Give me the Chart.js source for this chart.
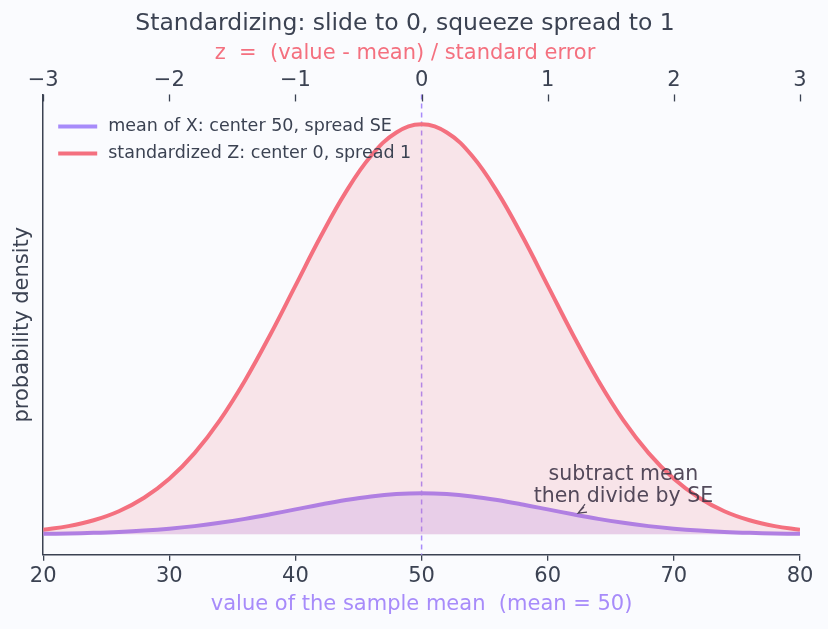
<!DOCTYPE html>
<html>
<head>
<meta charset="utf-8">
<script src="https://cdn.jsdelivr.net/npm/chart.js@4.4.1/dist/chart.umd.min.js"></script>
<style>
  html, body { margin: 0; padding: 0; background: #fafbfe; }
  #wrap { width: 828px; height: 629px; }
</style>
</head>
<body>
<div id="wrap"><canvas id="chart" width="828" height="629"></canvas></div>
<script>
'use strict'

// sample mean values on the bottom axis
const xValues = [20, 22, 24, 26, 28, 30, 32, 34, 36, 38, 40, 42, 44, 46, 48, 50,
  52, 54, 56, 58, 60, 62, 64, 66, 68, 70, 72, 74, 76, 78, 80]

// density of the sample mean (center 50, spread SE)
const meanDensity = [0.00044, 0.00079, 0.00136, 0.00224, 0.00355, 0.0054, 0.0079, 0.01109,
  0.01497, 0.01942, 0.0242, 0.02897, 0.03332, 0.03683, 0.0391, 0.03989,
  0.0391, 0.03683, 0.03332, 0.02897, 0.0242, 0.01942, 0.01497, 0.01109,
  0.0079, 0.0054, 0.00355, 0.00224, 0.00136, 0.00079, 0.00044]

// density of the standardized Z (center 0, spread 1)
const zDensity = [0.0044, 0.0079, 0.0136, 0.0224, 0.0355, 0.054, 0.079, 0.1109,
  0.1497, 0.1942, 0.242, 0.2897, 0.3332, 0.3683, 0.391, 0.3989,
  0.391, 0.3683, 0.3332, 0.2897, 0.242, 0.1942, 0.1497, 0.1109,
  0.079, 0.054, 0.0355, 0.0224, 0.0136, 0.0079, 0.0044]

const bottomTicks = [20, 30, 40, 50, 60, 70, 80]
const topTicks = [-3, -2, -1, 0, 1, 2, 3]

const noteLines = ['subtract mean', 'then divide by SE']
const notePos = { x: 66, y: 0.058 }
const arrowTip = { x: 62.4, y: 0.0205 }

const INK = '#3b4252'
const PINK = '#f4707f'
const PURPLE = '#a78bfa'
const FONT = "'DejaVu Sans', sans-serif"

const toPoints = ys => xValues.map((x, i) => ({ x, y: ys[i] }))

// paint the page colour behind everything
const backdrop = {
  id: 'backdrop',
  beforeDraw(chart) {
    const ctx = chart.ctx
    ctx.save()
    ctx.fillStyle = '#fafbfe'
    ctx.fillRect(0, 0, chart.width, chart.height)
    ctx.restore()
  }
}

// dashed line at the mean, top tick marks, legend and the note
const extras = {
  id: 'extras',
  beforeDatasetsDraw(chart) {
    const { ctx, chartArea, scales } = chart
    const x = scales.x.getPixelForValue(50)
    ctx.save()
    ctx.strokeStyle = PURPLE
    ctx.lineWidth = 1.5
    ctx.setLineDash([5, 4])
    ctx.beginPath()
    ctx.moveTo(x, chartArea.top)
    ctx.lineTo(x, chartArea.bottom)
    ctx.stroke()
    ctx.restore()
  },
  afterDraw(chart) {
    const { ctx, chartArea, scales } = chart
    ctx.save()

    // top axis tick marks point into the plot
    ctx.strokeStyle = INK
    ctx.lineWidth = 1.3
    topTicks.forEach(t => {
      const px = Math.round(scales.x2.getPixelForValue(t)) + 0.5
      ctx.beginPath()
      ctx.moveTo(px, chartArea.top)
      ctx.lineTo(px, chartArea.top + 7)
      ctx.stroke()
    })

    // legend
    ctx.font = '17.5px ' + FONT
    ctx.textBaseline = 'middle'
    ctx.textAlign = 'left'
    chart.data.datasets.forEach((ds, i) => {
      const y = chartArea.top + 32 + i * 27
      ctx.strokeStyle = ds.legendColor
      ctx.lineWidth = 4
      ctx.beginPath()
      ctx.moveTo(chartArea.left + 15, y)
      ctx.lineTo(chartArea.left + 54, y)
      ctx.stroke()
      ctx.fillStyle = INK
      ctx.fillText(ds.label, chartArea.left + 65, y)
    })

    // annotation
    const nx = scales.x.getPixelForValue(notePos.x)
    const ny = scales.y.getPixelForValue(notePos.y)
    ctx.font = '20.5px ' + FONT
    ctx.textAlign = 'center'
    ctx.fillStyle = 'rgba(59, 50, 70, 0.88)'
    noteLines.forEach((line, i) => ctx.fillText(line, nx, ny + i * 22))

    const ax = scales.x.getPixelForValue(arrowTip.x)
    const ay = scales.y.getPixelForValue(arrowTip.y)
    ctx.strokeStyle = 'rgba(59, 50, 70, 0.88)'
    ctx.lineWidth = 1.2
    ctx.beginPath()
    ctx.moveTo(ax + 7, ay - 9)
    ctx.lineTo(ax, ay)
    ctx.lineTo(ax + 9, ay - 1)
    ctx.moveTo(ax, ay)
    ctx.lineTo(ax + 6, ay - 6)
    ctx.stroke()

    ctx.restore()
  }
}

const config = {
  type: 'line',
  data: {
    datasets: [
      {
        label: 'mean of X: center 50, spread SE',
        data: toPoints(meanDensity),
        borderColor: '#b07fe2',
        legendColor: PURPLE,
        backgroundColor: 'rgba(176, 127, 226, 0.22)',
        borderWidth: 4,
        fill: 'origin',
        tension: 0.4,
        pointRadius: 0
      },
      {
        label: 'standardized Z: center 0, spread 1',
        data: toPoints(zDensity),
        borderColor: PINK,
        legendColor: PINK,
        backgroundColor: 'rgba(244, 112, 127, 0.16)',
        borderWidth: 4,
        fill: 'origin',
        tension: 0.4,
        pointRadius: 0
      }
    ]
  },
  options: {
    responsive: false,
    animation: false,
    layout: { padding: { left: 10, right: 28, top: 10, bottom: 12 } },
    plugins: {
      legend: { display: false },
      tooltip: { enabled: false },
      title: {
        display: true,
        text: 'Standardizing: slide to 0, squeeze spread to 1',
        color: INK,
        font: { family: FONT, size: 23.5, weight: 'normal' },
        padding: { top: 0, bottom: 3 }
      },
      subtitle: {
        display: true,
        text: 'z  =  (value - mean) / standard error',
        color: PINK,
        font: { family: FONT, size: 21, weight: 'normal' },
        padding: { top: 0, bottom: 0 }
      }
    },
    scales: {
      x: {
        type: 'linear',
        position: 'bottom',
        min: 20,
        max: 80,
        afterBuildTicks: axis => { axis.ticks = bottomTicks.map(v => ({ value: v })) },
        ticks: { color: INK, font: { family: FONT, size: 21, lineHeight: 1.0 }, padding: 5 },
        grid: { display: true, drawOnChartArea: false, tickLength: 6, color: INK, lineWidth: 1.3 },
        border: { display: true, color: INK, width: 1.5 },
        title: {
          display: true,
          text: 'value of the sample mean  (mean = 50)',
          color: PURPLE,
          font: { family: FONT, size: 21 },
          padding: { top: 0, bottom: 0 }
        }
      },
      x2: {
        type: 'linear',
        position: 'top',
        min: -3,
        max: 3,
        afterBuildTicks: axis => { axis.ticks = topTicks.map(v => ({ value: v })) },
        ticks: {
          color: INK,
          font: { family: FONT, size: 21, lineHeight: 1.05 },
          padding: 3,
          callback: v => String(v).replace('-', '\u2212')
        },
        grid: { display: false, drawTicks: false },
        border: { display: false }
      },
      y: {
        min: -0.02,
        max: 0.428,
        ticks: { display: false },
        grid: { display: false },
        border: { display: true, color: INK, width: 1.5 },
        title: {
          display: true,
          text: 'probability density',
          color: INK,
          font: { family: FONT, size: 21 },
          padding: { top: 0, bottom: 0 }
        }
      }
    }
  },
  plugins: [backdrop, extras]
}

new Chart(document.getElementById('chart'), config)
</script>
</body>
</html>
